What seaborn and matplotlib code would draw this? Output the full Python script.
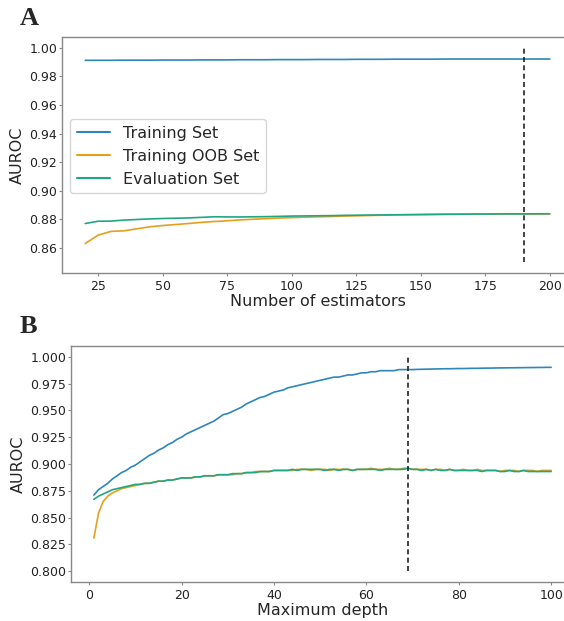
import numpy as np
import pandas as pd
import matplotlib
matplotlib.use("Agg")
import matplotlib.pyplot as plt
import seaborn as sns

series_names = ["Training Set", "Training OOB Set", "Evaluation Set"]
colors = ["#2e86bd", "#e69f1c", "#1fa783"]

# Panel A: number of estimators
est_x = list(range(20, 201, 5))
est_train = [0.9912,0.9912,0.9912,0.9913,0.9913,0.9913,0.9914,0.9914,0.9914,0.9915,
             0.9915,0.9915,0.9916,0.9916,0.9916,0.9917,0.9917,0.9917,0.9918,0.9918,
             0.9918,0.9919,0.9919,0.9919,0.9920,0.9920,0.9920,0.9920,0.9921,0.9921,
             0.9921,0.9921,0.9921,0.9921,0.9921,0.9921,0.9921]
est_oob = [0.8631,0.8690,0.8716,0.8720,0.8734,0.8748,0.8757,0.8764,0.8771,0.8779,
           0.8785,0.8790,0.8796,0.8801,0.8805,0.8809,0.8812,0.8815,0.8818,0.8820,
           0.8823,0.8825,0.8827,0.8829,0.8831,0.8832,0.8833,0.8834,0.8835,0.8836,
           0.8836,0.8837,0.8837,0.8838,0.8838,0.8838,0.8838]
est_eval = [0.8771,0.8787,0.8788,0.8795,0.8799,0.8803,0.8806,0.8808,0.8810,0.8814,
            0.8818,0.8817,0.8817,0.8818,0.8819,0.8821,0.8823,0.8824,0.8825,0.8826,
            0.8828,0.8829,0.8830,0.8831,0.8832,0.8833,0.8834,0.8835,0.8836,0.8836,
            0.8837,0.8837,0.8838,0.8838,0.8838,0.8839,0.8839]
est_best = 190

# Panel B: maximum depth
depth_x = list(range(1, 101))
depth_train = [0.871,0.876,0.879,0.882,0.886,0.889,0.892,0.894,0.897,0.899,
               0.902,0.905,0.908,0.910,0.913,0.915,0.918,0.920,0.923,0.925,
               0.928,0.930,0.932,0.934,0.936,0.938,0.940,0.943,0.946,0.947,
               0.949,0.951,0.953,0.956,0.958,0.960,0.962,0.963,0.965,0.967,
               0.968,0.969,0.971,0.972,0.973,0.974,0.975,0.976,0.977,0.978,
               0.979,0.980,0.981,0.981,0.982,0.983,0.983,0.984,0.985,0.985,
               0.986,0.986,0.987,0.987,0.987,0.987,0.988,0.988,0.988,0.988,
               0.9882,0.9883,0.9884,0.9885,0.9886,0.9887,0.9888,0.9888,0.9889,0.9890,
               0.9890,0.9891,0.9892,0.9892,0.9893,0.9894,0.9894,0.9895,0.9896,0.9896,
               0.9897,0.9897,0.9898,0.9898,0.9899,0.9899,0.9900,0.9900,0.9901,0.9901]
depth_oob = [0.831,0.854,0.865,0.870,0.873,0.875,0.877,0.878,0.879,0.880,
             0.881,0.882,0.882,0.883,0.884,0.884,0.885,0.885,0.886,0.887,
             0.887,0.887,0.888,0.888,0.889,0.889,0.889,0.890,0.890,0.890,
             0.890,0.891,0.891,0.892,0.892,0.893,0.893,0.893,0.893,0.894,
             0.894,0.894,0.894,0.894,0.895,0.895,0.895,0.894,0.895,0.895,
             0.895,0.894,0.895,0.895,0.895,0.895,0.894,0.895,0.895,0.895,
             0.896,0.895,0.895,0.895,0.896,0.895,0.895,0.896,0.896,0.895,
             0.895,0.895,0.895,0.894,0.895,0.895,0.894,0.895,0.894,0.894,
             0.895,0.894,0.894,0.895,0.894,0.894,0.894,0.894,0.893,0.894,
             0.894,0.894,0.893,0.894,0.894,0.894,0.893,0.894,0.894,0.894]
depth_eval = [0.867,0.870,0.872,0.874,0.876,0.877,0.878,0.879,0.880,0.881,
              0.881,0.882,0.882,0.883,0.884,0.884,0.885,0.885,0.886,0.887,
              0.887,0.887,0.888,0.888,0.889,0.889,0.889,0.890,0.890,0.890,
              0.891,0.891,0.891,0.892,0.892,0.892,0.893,0.893,0.893,0.894,
              0.894,0.894,0.894,0.895,0.894,0.895,0.895,0.895,0.895,0.895,
              0.894,0.895,0.895,0.894,0.895,0.895,0.894,0.895,0.895,0.895,
              0.895,0.895,0.894,0.895,0.895,0.895,0.895,0.895,0.896,0.895,
              0.895,0.894,0.895,0.894,0.895,0.894,0.894,0.895,0.894,0.894,
              0.894,0.894,0.894,0.894,0.893,0.894,0.894,0.894,0.893,0.893,
              0.894,0.893,0.893,0.894,0.893,0.893,0.893,0.893,0.893,0.893]
depth_best = 69

def long_df(x, ys):
    frames = []
    for name, y in zip(series_names, ys):
        frames.append(pd.DataFrame({"x": x, "y": y, "Set": name}))
    return pd.concat(frames, ignore_index=True)

sns.set_style("ticks")
plt.rcParams["font.family"] = ["DejaVu Sans"]
plt.rcParams["axes.edgecolor"] = "#888888"
plt.rcParams["xtick.color"] = "#888888"
plt.rcParams["ytick.color"] = "#888888"
plt.rcParams["xtick.labelcolor"] = "#222222"
plt.rcParams["ytick.labelcolor"] = "#222222"

W, H = 564, 621
fig = plt.figure(figsize=(W / 100, H / 100), dpi=100)
axA = fig.add_axes([62 / W, 1 - 273 / H, 511 / W, 236 / H])
axB = fig.add_axes([71 / W, 1 - 582 / H, 503 / W, 236 / H])

pal = dict(zip(series_names, colors))

dfA = long_df(est_x, [est_train, est_oob, est_eval])
sns.lineplot(data=dfA, x="x", y="y", hue="Set", palette=pal, ax=axA, linewidth=1.2)
axA.vlines(est_best, 0.85, 1.0, colors="#222222", linestyles=(0, (3, 2)), linewidth=1.2)
axA.set_xlim(11, 209)
axA.set_ylim(0.8425, 1.0075)
ya = [0.86, 0.88, 0.90, 0.92, 0.94, 0.96, 0.98, 1.00]
axA.set_yticks(ya)
axA.set_yticklabels([f"{v:.2f}" for v in ya])
axA.set_xticks([25, 50, 75, 100, 125, 150, 175, 200])
axA.set_xlabel("Number of estimators", fontsize=11.5, labelpad=1)
axA.set_ylabel("AUROC", fontsize=11.5, labelpad=3)
leg = axA.legend(loc="lower left", bbox_to_anchor=(0.016, 0.339), borderaxespad=0,
                 fontsize=11.5, frameon=True, handlelength=2.1)
for l in leg.get_lines():
    l.set_linewidth(1.5)

dfB = long_df(depth_x, [depth_train, depth_oob, depth_eval])
sns.lineplot(data=dfB, x="x", y="y", hue="Set", palette=pal, ax=axB, linewidth=1.2, legend=False)
axB.vlines(depth_best, 0.80, 1.0, colors="#222222", linestyles=(0, (3, 2)), linewidth=1.2)
axB.set_xlim(-3.95, 104.95)
axB.set_ylim(0.79, 1.01)
yb = [0.800, 0.825, 0.850, 0.875, 0.900, 0.925, 0.950, 0.975, 1.000]
axB.set_yticks(yb)
axB.set_yticklabels([f"{v:.3f}" for v in yb])
axB.set_xticks([0, 20, 40, 60, 80, 100])
axB.set_xlabel("Maximum depth", fontsize=11.5, labelpad=1)
axB.set_ylabel("AUROC", fontsize=11.5, labelpad=3)

for ax in (axA, axB):
    ax.tick_params(axis="both", labelsize=9, length=2.5, width=0.8)
    ax.tick_params(axis="y", pad=1)
    ax.tick_params(axis="x", pad=2.5)
    for s in ax.spines.values():
        s.set_linewidth(1.0)

fig.text(20 / W, 1 - 25 / H, "A", family="Liberation Serif", fontsize=19, fontweight="bold")
fig.text(20 / W, 1 - 333 / H, "B", family="Liberation Serif", fontsize=19, fontweight="bold")

fig.savefig("out.png", dpi=100)
